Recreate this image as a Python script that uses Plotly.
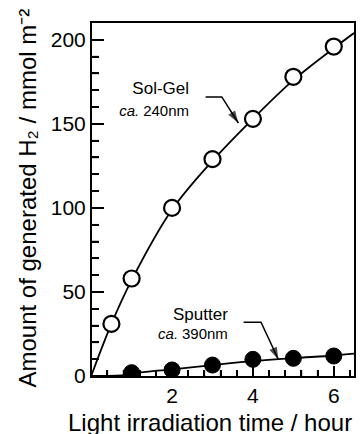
import plotly.graph_objects as go

# Data
solgel_t = [0.5, 1, 2, 3, 4, 5, 6]
solgel_h2 = [31, 58, 100, 129, 153, 178, 196]
sputter_t = [1, 2, 3, 4, 5, 6]
sputter_h2 = [2, 3.6, 6.5, 9.9, 10.5, 11.9]

# fitted guide curves
solgel_fit_t = [0, 0.5, 1, 2, 3, 4, 5, 6, 6.5]
solgel_fit_h2 = [0, 31, 57, 99, 128, 153, 176, 195, 204]
sputter_fit_t = [0, 0.8, 1, 2, 3, 4, 5, 6, 6.5]
sputter_fit_h2 = [0, 0.5, 1.5, 4, 6.5, 8.8, 10.6, 12.2, 13.3]

# labels
label_names = ["Sol-Gel", "Sputter"]
label_ca = ["ca.", "ca."]
label_sizes = ["240nm", "390nm"]

# tick values
x_major = [2, 4, 6]
x_minor = [round(0.4 * k, 2) for k in range(1, 17) if k % 5 != 0]
y_major = [50, 100, 150, 200]
y_minor = [v for v in range(10, 210, 10) if v % 50 != 0]

FONT = "Liberation Sans, Arial, Helvetica, sans-serif"
PLOT_W, PLOT_H = 264, 353

fig = go.Figure()
fig.add_trace(go.Scatter(x=solgel_fit_t, y=solgel_fit_h2, mode="lines",
                         line=dict(color="black", width=1.8, shape="spline"),
                         hoverinfo="skip", showlegend=False))
fig.add_trace(go.Scatter(x=sputter_fit_t, y=sputter_fit_h2, mode="lines",
                         line=dict(color="black", width=1.8, shape="spline"),
                         hoverinfo="skip", showlegend=False))
fig.add_trace(go.Scatter(x=solgel_t, y=solgel_h2, mode="markers",
                         marker=dict(size=16, color="white", line=dict(color="black", width=2.2)),
                         showlegend=False))
fig.add_trace(go.Scatter(x=sputter_t, y=sputter_h2, mode="markers",
                         marker=dict(size=16, color="black", line=dict(color="black", width=1)),
                         showlegend=False))

# label texts (text traces)
fig.add_trace(go.Scatter(x=[2.42, 3.38], y=[170, 36], mode="text", text=label_names,
                         textposition="middle left", showlegend=False, hoverinfo="skip",
                         textfont=dict(family=FONT, size=17, color="black")))
fig.add_trace(go.Scatter(x=[2.42, 3.38], y=[157, 24.5], mode="text", text=label_sizes,
                         textposition="middle left", showlegend=False, hoverinfo="skip",
                         textfont=dict(family=FONT, size=15, color="black")))
fig.add_trace(go.Scatter(x=[1.19, 2.15], y=[157, 24.5], mode="text", text=label_ca,
                         textposition="middle left", showlegend=False, hoverinfo="skip",
                         textfont=dict(family=FONT, size=15, color="black", style="italic")))

# bent arrows (horizontal stub + diagonal with arrowhead)
for ax_, ay_ in [([2.83, 3.23, 3.64], [166, 166, 150.5]),
                 ([3.77, 4.2, 4.63], [32, 32, 9.8])]:
    fig.add_trace(go.Scatter(x=ax_, y=ay_, mode="lines+markers",
                             line=dict(color="black", width=1.5),
                             marker=dict(symbol="arrow", size=[0, 0, 13], angleref="previous",
                                         color="black", line=dict(width=0)),
                             showlegend=False, hoverinfo="skip"))

# inward tick marks tied to the axes' tick values
tick_line = dict(color="black", width=1.5)
for v in x_major:
    fig.add_shape(type="line", xref="x", yref="paper", x0=v, x1=v, y0=0, y1=10 / PLOT_H,
                  line=tick_line, layer="above")
for v in x_minor:
    fig.add_shape(type="line", xref="x", yref="paper", x0=v, x1=v, y0=0, y1=6 / PLOT_H,
                  line=tick_line, layer="above")
for v in y_major:
    fig.add_shape(type="line", xref="paper", yref="y", x0=0, x1=12 / PLOT_W, y0=v, y1=v,
                  line=tick_line, layer="above")
for v in y_minor:
    fig.add_shape(type="line", xref="paper", yref="y", x0=0, x1=7 / PLOT_W, y0=v, y1=v,
                  line=tick_line, layer="above")

# axis titles as annotations (plain unicode, no markup)
fig.add_annotation(x=-0.245, y=0.505, xref="paper", yref="paper",
                   text="Amount of generated H\u2082 / mmol m\u207b\u00b2",
                   textangle=-90, showarrow=False, xanchor="center", yanchor="middle",
                   font=dict(family=FONT, size=24, color="black"))
fig.add_annotation(x=0.452, y=-0.133, xref="paper", yref="paper",
                   text="Light irradiation time / hour",
                   showarrow=False, xanchor="center", yanchor="middle",
                   font=dict(family=FONT, size=24, color="black"))

fig.update_layout(
    width=360, height=434,
    margin=dict(l=92, r=4, t=23, b=58),
    paper_bgcolor="white", plot_bgcolor="white",
    font=dict(family=FONT, color="black"),
)
fig.update_xaxes(
    range=[0.02, 6.5], tickmode="linear", tick0=0, dtick=2,
    ticks="inside", ticklen=10, tickwidth=1.5, tickcolor="black",
    minor=dict(dtick=0.4, ticks="inside", ticklen=6, tickwidth=1.5, tickcolor="black"),
    showline=True, linecolor="black", linewidth=2, mirror=True,
    showgrid=False, zeroline=False,
    tickfont=dict(family=FONT, size=21, color="black"),
)
fig.update_yaxes(
    range=[0, 210], tickmode="linear", tick0=0, dtick=50,
    ticks="inside", ticklen=12, tickwidth=1.5, tickcolor="black",
    minor=dict(dtick=10, ticks="inside", ticklen=7, tickwidth=1.5, tickcolor="black"),
    showline=True, linecolor="black", linewidth=2, mirror=True,
    showgrid=False, zeroline=False,
    tickfont=dict(family=FONT, size=21, color="black"),
)

fig.write_html("out.html")
